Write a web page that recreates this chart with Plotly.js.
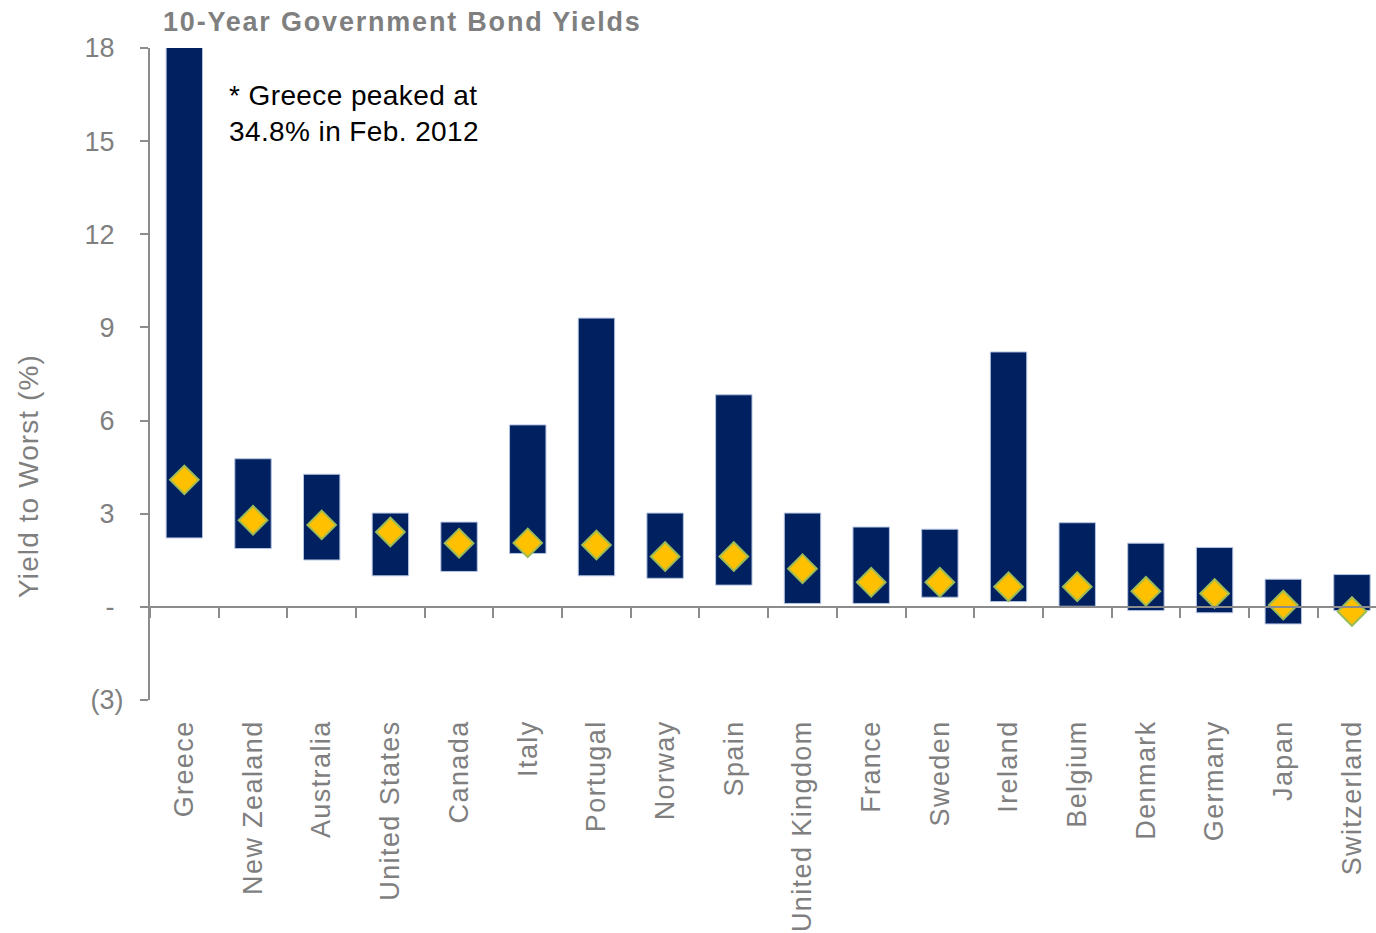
<!DOCTYPE html>
<html>
<head>
<meta charset="utf-8">
<script src="https://cdn.plot.ly/plotly-3.0.1.min.js"></script>
<style>
html,body{margin:0;padding:0;background:#fff;}
#chart{width:1376px;height:933px;}
#chart .gtitle{letter-spacing:1.8px;}
#chart .xtick text{letter-spacing:1.4px;}
#chart .annotation[data-index="0"] text{letter-spacing:1.1px;}
#chart .annotation[data-index="1"] text{letter-spacing:0.4px;}
</style>
</head>
<body>
<div id="chart"></div>
<script>
const countries = ["Greece","New Zealand","Australia","United States","Canada","Italy","Portugal","Norway","Spain","United Kingdom","France","Sweden","Ireland","Belgium","Denmark","Germany","Japan","Switzerland"];
const lowYield = [2.22,1.88,1.51,1.00,1.14,1.72,1.00,0.92,0.70,0.11,0.11,0.31,0.17,0.02,-0.12,-0.19,-0.55,-0.12];
const highYield = [34.8,4.77,4.27,3.02,2.73,5.86,9.30,3.02,6.83,3.02,2.57,2.50,8.21,2.71,2.05,1.91,0.89,1.04];
const currentYield = [4.09,2.79,2.64,2.41,2.05,2.06,1.99,1.62,1.62,1.23,0.79,0.79,0.65,0.65,0.50,0.43,0.06,-0.15];
const yTickVals = [-3,0,3,6,9,12,15,18];
const yTickText = ["(3)","-\u2004","3\u2004","6\u2004","9\u2004","12\u2004","15\u2004","18\u2004"];

const FONT = "Liberation Sans, Arial, sans-serif";
const GREY = "#7f7f7f";
const xRange = [-0.5, 17.35];

const rangeBars = {
  type: "bar",
  x: countries,
  base: lowYield,
  y: highYield.map((h, i) => h - lowYield[i]),
  width: 0.53,
  marker: {color: "#002060", line: {color: "#b4c3e0", width: 1}},
  hoverinfo: "x",
  showlegend: false,
  xaxis: "x", yaxis: "y"
};
const current = {
  type: "scatter",
  mode: "markers",
  x: countries,
  y: currentYield,
  marker: {symbol: "diamond", size: 22, color: "#ffc000", line: {color: "#9bbb59", width: 2}},
  cliponaxis: false,
  showlegend: false,
  xaxis: "x2", yaxis: "y"
};

const layout = {
  width: 1376, height: 933,
  margin: {l: 150, r: 0, t: 48, b: 233, pad: 0},
  paper_bgcolor: "#fff", plot_bgcolor: "#fff",
  font: {family: FONT, color: GREY},
  title: {
    text: "10-Year Government Bond Yields",
    font: {family: FONT, size: 27, color: GREY, weight: "bold"},
    xref: "paper", x: 13/1226, xanchor: "left",
    yref: "container", y: 1 - 22/933, yanchor: "middle"
  },
  xaxis: {
    type: "category", categoryorder: "array", categoryarray: countries,
    range: xRange, fixedrange: true,
    showline: false, ticks: "", showgrid: false, zeroline: false,
    tickangle: -90, ticklabelstandoff: 14,
    tickfont: {family: FONT, size: 27, color: GREY}
  },
  xaxis2: {
    type: "category", categoryorder: "array", categoryarray: countries,
    range: xRange, fixedrange: true,
    overlaying: "x", anchor: "free", position: 3/21, side: "bottom",
    showline: true, linecolor: "#8c8c8c", linewidth: 2,
    ticks: "outside", tickson: "boundaries", ticklen: 10, tickwidth: 2, tickcolor: "#8c8c8c",
    showticklabels: false, showgrid: false, zeroline: false
  },
  yaxis: {
    range: [-3, 18], fixedrange: true,
    tickvals: yTickVals, ticktext: yTickText,
    showline: true, linecolor: "#8c8c8c", linewidth: 2,
    ticks: "outside", ticklen: 8, tickwidth: 2, tickcolor: "#8c8c8c",
    showgrid: false, zeroline: false,
    ticklabelstandoff: 11,
    tickfont: {family: FONT, size: 27, color: GREY}
  },
  annotations: [
    {
      text: "Yield to Worst (%)", textangle: -90, showarrow: false,
      xref: "paper", x: (28 - 150)/1226, xanchor: "center",
      yref: "paper", y: (700 - 476)/652, yanchor: "middle",
      font: {family: FONT, size: 28, color: GREY}
    },
    {
      text: "* Greece peaked at<br>34.8% in Feb. 2012", showarrow: false, align: "left",
      xref: "paper", x: (227 - 150)/1226, xanchor: "left",
      yref: "paper", y: (700 - 113.5)/652, yanchor: "middle",
      font: {family: FONT, size: 28, color: "#000"}
    }
  ]
};

Plotly.newPlot("chart", [rangeBars, current], layout, {displayModeBar: false, staticPlot: true});
</script>
</body>
</html>
